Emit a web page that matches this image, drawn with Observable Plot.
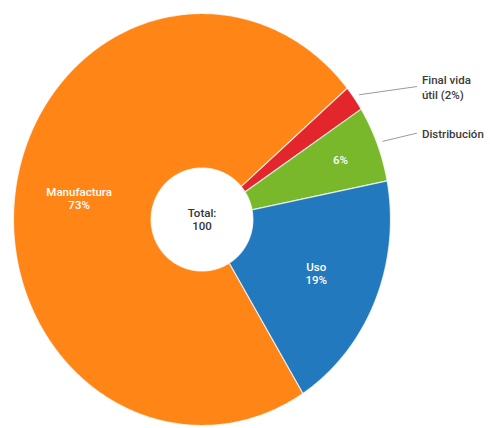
<!DOCTYPE html>
<html>
<head>
<meta charset="utf-8">
<script src="https://cdn.jsdelivr.net/npm/d3@7"></script>
<script src="https://cdn.jsdelivr.net/npm/@observablehq/plot@0.6"></script>
<style>
  html, body { margin: 0; padding: 0; background: #fff; }
  #chart svg { display: block; }
</style>
</head>
<body>
<div id="chart"></div>
<script>
// ---- data ----
const names = ["Manufactura", "Final vida útil", "Distribución", "Uso"];
const values = [73, 2, 6, 19];
const colors = ["#ff8517", "#e2262c", "#7ab82b", "#2279bd"];
const insideLabels = ["Manufactura\n73%", "", "6%", "Uso\n19%"];
const outsideLabels = ["", "Final vida\nútil (2%)", "Distribución", ""];
const centerLabel = "Total:\n100";

// ---- geometry (unit donut, drawn through x/y scales) ----
const deg = Math.PI / 180;
const innerRx = 0.27, innerRy = 0.25;   // circular hole inside the slightly oval ring
const pie = d3.pie().sort(null).value(d => d)
  .startAngle(147.6 * deg).endAngle(147.6 * deg + 2 * Math.PI);
const arcs = pie(values);

const wedgePoints = [];
arcs.forEach((a, i) => {
  const n = Math.max(2, Math.ceil((a.endAngle - a.startAngle) / deg * 2));
  const pts = [];
  for (let k = 0; k <= n; k++) {
    const t = a.startAngle + (a.endAngle - a.startAngle) * k / n;
    pts.push({x: Math.sin(t), y: Math.cos(t)});
  }
  for (let k = n; k >= 0; k--) {
    const t = a.startAngle + (a.endAngle - a.startAngle) * k / n;
    pts.push({x: innerRx * Math.sin(t), y: innerRy * Math.cos(t)});
  }
  pts.push(pts[0]);
  pts.forEach(p => wedgePoints.push({...p, name: names[i]}));
});

const mid = a => (a.startAngle + a.endAngle) / 2;
const inside = arcs.map((a, i) => {
  const r = values[i] < 10 ? 0.79 : 0.66;
  return {x: r * Math.sin(mid(a)), y: r * Math.cos(mid(a)), text: insideLabels[i]};
}).filter(d => d.text);

const outside = arcs.map((a, i) => {
  const m = mid(a);
  const x1 = 1.03 * Math.sin(m), y1 = 1.03 * Math.cos(m);
  return {x1, y1, x2: 1.14, y2: y1 + 0.04, text: outsideLabels[i]};
}).filter(d => d.text);

const chart = Plot.plot({
  width: 490,
  height: 428,
  margin: 0,
  x: {domain: [-1, 1], range: [13, 390], axis: null},
  y: {domain: [-1, 1], range: [425, 13], axis: null},
  color: {domain: names, range: colors},
  style: {background: "#fff", fontFamily: "Roboto, 'Liberation Sans', sans-serif"},
  marks: [
    Plot.line(wedgePoints, {x: "x", y: "y", z: "name", fill: "name",
      stroke: "#fff", strokeWidth: 1.2, strokeOpacity: 0.75, curve: "linear"}),
    Plot.text(inside, {x: "x", y: "y", text: "text", fill: "#fff",
      fontSize: 11.5, fontWeight: 500, lineHeight: 1.12}),
    Plot.text([centerLabel], {x: [0], y: [0], text: d => d, fill: "#333",
      fontSize: 11.5, fontWeight: 500, lineHeight: 1.1}),
    Plot.link(outside, {x1: "x1", y1: "y1", x2: "x2", y2: "y2",
      stroke: "#9a9a9a", strokeWidth: 1}),
    Plot.text(outside, {x: "x2", y: "y2", text: "text", dx: 5,
      textAnchor: "start", lineAnchor: "middle", fill: "#3a3a3a",
      fontSize: 11.5, fontWeight: 500, lineHeight: 1.3})
  ]
});
document.getElementById("chart").appendChild(chart);
</script>
</body>
</html>
